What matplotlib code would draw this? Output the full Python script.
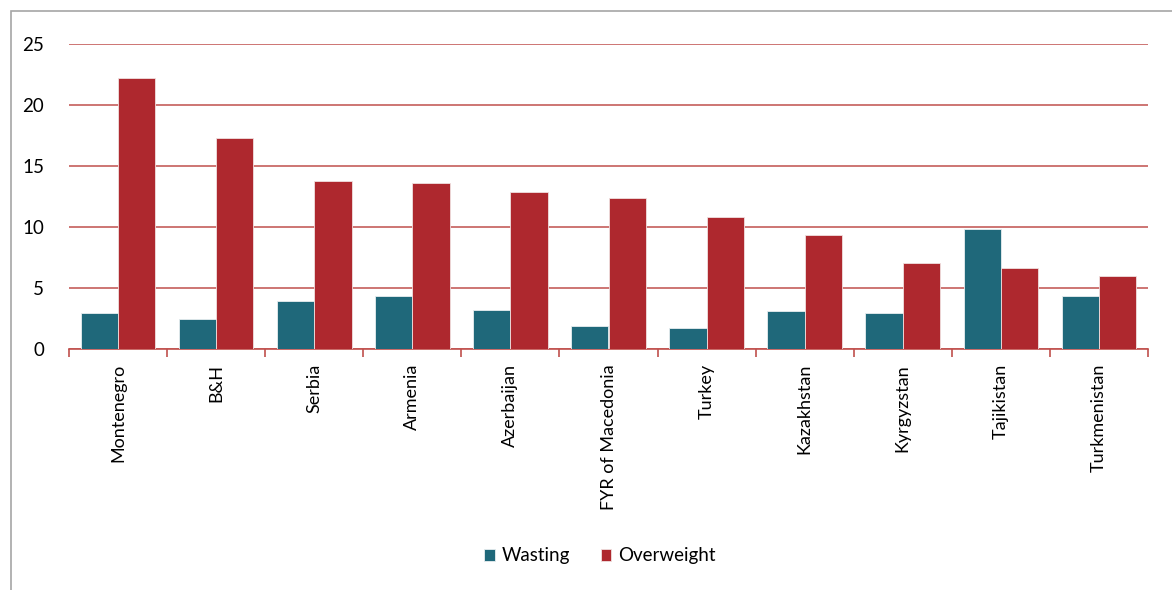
import matplotlib.pyplot as plt
import matplotlib.patches as mpatches
import numpy as np

plt.rcParams['font.family'] = ['Lato', 'DejaVu Sans']

countries = ["Montenegro", "B&H", "Serbia", "Armenia", "Azerbaijan",
             "FYR of Macedonia", "Turkey", "Kazakhstan", "Kyrgyzstan",
             "Tajikistan", "Turkmenistan"]
wasting = [2.9, 2.4, 3.9, 4.3, 3.2, 1.9, 1.7, 3.1, 2.9, 9.8, 4.3]
overweight = [22.2, 17.3, 13.8, 13.6, 12.9, 12.4, 10.8, 9.3, 7.0, 6.6, 6.0]

teal = "#1f687a"
red = "#ae282e"
axis_red = "#c0504d"

fig = plt.figure(figsize=(11.72, 5.9), dpi=100)
ax = fig.add_axes([69 / 1172, 1 - 348.7 / 590, (1148 - 69) / 1172, (348.7 - 44.3) / 590])

# outer frame of the original chart object
fig.patches.append(mpatches.Rectangle((11 / 1172, -0.05), 1.1, 1 - 11 / 590 + 0.05,
                                      transform=fig.transFigure, fill=False,
                                      edgecolor="#a6a6a6", linewidth=1.2))

x = np.arange(len(countries))
w = 0.38
ax.bar(x - w / 2, wasting, w, color=teal, edgecolor="#e8eef0", linewidth=0.6,
       label="Wasting", zorder=3)
ax.bar(x + w / 2, overweight, w, color=red, edgecolor="#f0e0e0", linewidth=0.6,
       label="Overweight", zorder=3)

ax.set_xlim(-0.5, len(countries) - 0.5)
ax.set_ylim(0, 25)
ax.set_yticks([0, 5, 10, 15, 20, 25])
ax.yaxis.grid(True, color=axis_red, linewidth=1.1, zorder=0)
ax.set_axisbelow(True)

for s in ["top", "right", "left"]:
    ax.spines[s].set_visible(False)
ax.spines["bottom"].set_color(axis_red)
ax.spines["bottom"].set_linewidth(1.2)

ax.set_xticks(np.arange(-0.5, len(countries), 1.0))
ax.set_xticklabels([])
ax.set_xticks(x, minor=True)
ax.set_xticklabels(countries, minor=True, rotation=90, fontsize=13)
ax.tick_params(axis="x", which="major", direction="out", length=6,
               color=axis_red, width=1.2)
ax.tick_params(axis="x", which="minor", length=0, pad=11)
ax.tick_params(axis="y", length=0, labelsize=13.5, pad=18)

ax.legend(loc="center", bbox_to_anchor=(0.512, 1 - 556 / 590), bbox_transform=fig.transFigure,
          ncol=2, frameon=False, fontsize=13.5, handlelength=0.55, handleheight=0.55,
          handletextpad=0.4, columnspacing=1.6)

fig.savefig("out.png", dpi=100)
